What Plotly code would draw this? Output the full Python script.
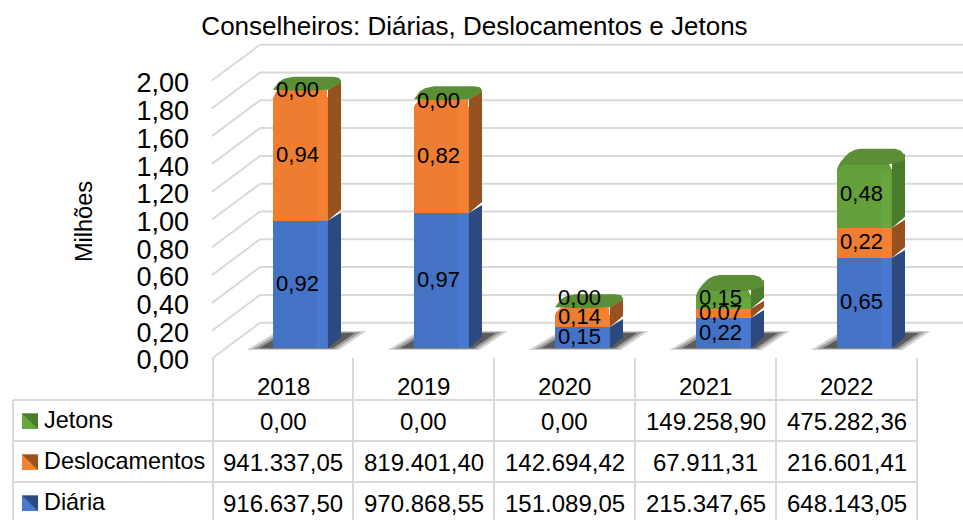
import plotly.graph_objects as go

YEARS = ["2018", "2019", "2020", "2021", "2022"]
DIARIA = [916637.50, 970868.55, 151089.05, 215347.65, 648143.05]
DESLOC = [941337.05, 819401.40, 142694.42, 67911.31, 216601.41]
JETONS = [0.00, 0.00, 0.00, 149258.90, 475282.36]
SERIES = ["Diária", "Deslocamentos", "Jetons"]
TICKS = [0.0, 0.2, 0.4, 0.6, 0.8, 1.0, 1.2, 1.4, 1.6, 1.8, 2.0]
TITLE = "Conselheiros: Diárias, Deslocamentos e Jetons"
YTITLE = "Milhões"

FRONT = ["#4472C4", "#ED7D31", "#639F3B"]
BRIGHT = ["#4878CF", "#F58232", "#68A63E"]
SIDE = ["#2C4A80", "#98521F", "#4B7C2C"]
TOP = "#5A8F35"
GRID = "#D9D9D9"
W, H = 963, 520
UX, UY = 141.0, 139.0
X0, Y0 = 300.5, 348.0
BAR_W = 55.0
REG = "Liberation Sans"
ZERO_NUDGE = [-2, -3, 8, 0, 0]


def dx(p):
    return p / UX


def dy(p):
    return p / UY


def br(v):
    s = f"{v:,.2f}"
    return s.replace(",", "#").replace(".", ",").replace("#", ".")


xr = [-X0 / UX, (W - X0) / UX]
yr = [(Y0 - H) / UY, Y0 / UY]
idx = list(range(len(YEARS)))
stacks = [[v / 1e6 for v in s] for s in (DIARIA, DESLOC, JETONS)]

fig = go.Figure()
shapes = []

# walls
xl = (212 - X0) / UX
xb = (260 - X0) / UX
xe = (W - X0) / UX
for t in TICKS:
    yf = t + dy(Y0 - 358.5)
    yb = t + dy(Y0 - 322.7)
    shapes.append(dict(type="line", xref="x", yref="y", x0=xl, y0=yf, x1=xb, y1=yb, layer="below",
                       line=dict(color=GRID, width=2)))
    shapes.append(dict(type="line", xref="x", yref="y", x0=xb, y0=yb, x1=xe, y1=yb, layer="below",
                       line=dict(color=GRID, width=2)))

# shadows
SHADOW_LAYERS = [(1.0, "rgba(120,120,120,0.35)"), (0.9, "rgba(90,90,90,0.45)"), (0.8, "rgba(50,50,50,0.6)")]
for i in idx:
    for g, col in SHADOW_LAYERS:
        pts = [(-62, 2), (-30, -17), (58, -17), (30, 2)]
        cx, cy = 8, -7
        path = "M" + " L".join(f"{i + dx(cx + a * g):.4f},{dy(-(cy + (b + 7) * g)):.4f}" for a, b in pts) + " Z"
        shapes.append(dict(type="path", xref="x", yref="y", path=path, layer="below", line=dict(width=0), fillcolor=col))

# front faces
for k, s in enumerate(stacks):
    marker = dict(color=FRONT[k], line=dict(width=0))
    if k == 2:
        marker["cornerradius"] = 10
    fig.add_trace(go.Bar(x=idx, y=s, width=BAR_W / UX, name=SERIES[k], marker=marker,
                         showlegend=False, hoverinfo="skip"))

half = BAR_W / 2 / UX
DX, DY = dx(13), dy(11)


def poly(xs, ys, color):
    fig.add_trace(go.Scatter(x=xs, y=ys, mode="lines", fill="toself", fillcolor=color,
                             line=dict(width=0), showlegend=False, hoverinfo="skip"))


TOP_FLAT = [(0, 0), (2, -3), (6, -8), (11, -11), (15, -12), (20, -13), (60, -13), (66, -12), (68, -9), (68, -7), (55, 0), (28, 1)]
TOP_ROUND = [(0, 9), (1, 5), (3, 1), (7, -4), (12, -9), (18, -12), (24, -13), (58, -13), (64, -11), (68, -6), (68, -2), (60, 1), (50, 3), (6, 3)]

# sides, highlight, tops
for i in idx:
    base = 0.0
    rounded = JETONS[i] > 0
    for k, s in enumerate(stacks):
        h = s[i]
        top = base + h
        if h > 0:
            R = i + half
            poly([R, R + DX, R + DX, R], [base, base + DY, top + dy(8), top], SIDE[k])
            cut = dy(10) if (k == 2 and rounded) else 0
            poly([R - dx(11), R - dx(1), R - dx(1), R - dx(11)], [base, base, top - cut, top - cut], BRIGHT[k])
        base = top
    L = i - half
    offs = TOP_ROUND if rounded else TOP_FLAT
    poly([L + dx(a) for a, b in offs], [base + dy(-b) for a, b in offs], TOP)

# bar labels
lx, ly, lt = [], [], []
for i in idx:
    base = 0.0
    for s in stacks:
        lx.append(i - dx(3))
        ly.append(base + s[i] / 2 + (dy(-1) if s[i] > 0 else dy(ZERO_NUDGE[i])))
        lt.append(f"{s[i]:.2f}".replace(".", ","))
        base += s[i]
fig.add_trace(go.Scatter(x=lx, y=ly, text=lt, mode="text", textposition="middle center",
                         textfont=dict(family=REG, size=22, color="#000000"), showlegend=False, hoverinfo="skip"))

fig.add_trace(go.Scatter(x=[0], y=[0], yaxis="y2", mode="markers", marker=dict(opacity=0), showlegend=False, hoverinfo="skip"))

# table
VX = [213, 353, 494, 635, 776, 917]
HY = [400, 441, 482]
for x in VX:
    shapes.append(dict(type="line", xref="paper", yref="paper", x0=x / W, x1=x / W, y0=1 - 358 / H, y1=0,
                       line=dict(color=GRID, width=2)))
shapes.append(dict(type="line", xref="paper", yref="paper", x0=13 / W, x1=13 / W, y0=1 - 400 / H, y1=0,
                   line=dict(color=GRID, width=2)))
for y in HY:
    shapes.append(dict(type="line", xref="paper", yref="paper", x0=13 / W, x1=917 / W, y0=1 - y / H, y1=1 - y / H,
                       line=dict(color=GRID, width=2)))

ann = []
FS = 24


def text(x, y, t, anchor="center", size=FS, angle=0):
    ann.append(dict(x=x / W, y=1 - y / H, xref="paper", yref="paper", text=t, showarrow=False, xanchor=anchor,
                    yanchor="middle", textangle=angle, borderpad=0, font=dict(family=REG, size=size, color="#000000")))


CX = [283, 423.5, 564.5, 705.5, 846.5]
RY = [421, 462, 503]
for c, y in zip(CX, YEARS):
    text(c, 386, y)
ROWS = [("Jetons", JETONS, 2), ("Deslocamentos", DESLOC, 1), ("Diária", DIARIA, 0)]
for ry, (name, vals, k) in zip(RY, ROWS):
    text(43, ry - 1, name, "left", size=23.4)
    for c, v in zip(CX, vals):
        text(c, ry, br(v))
    a, b, t0, t1 = 22, 38, ry - 7.5, ry + 8
    shapes.append(dict(type="rect", xref="paper", yref="paper", x0=a / W, x1=b / W, y0=1 - t0 / H, y1=1 - t1 / H,
                       fillcolor=BRIGHT[k], line=dict(width=0)))
    m = (a + b) / 2
    mid = (t0 + t1) / 2
    for pts, col in (([(b, t0), (b, t1), (m, mid)], SIDE[k]), ([(a, t0), (b, t0), (m, mid)], SIDE[k])):
        path = "M" + " L".join(f"{p / W:.5f},{1 - q / H:.5f}" for p, q in pts) + " Z"
        shapes.append(dict(type="path", xref="paper", yref="paper", path=path, fillcolor=col, line=dict(width=0)))

text(84, 222, YTITLE, size=23.5, angle=-90)

fig.update_layout(
    width=W, height=H, autosize=False, margin=dict(l=0, r=0, t=0, b=0),
    paper_bgcolor="white", plot_bgcolor="rgba(0,0,0,0)",
    barmode="stack", showlegend=False,
    title=dict(text=TITLE, x=474.5 / W, y=1 - 26 / H, xanchor="center", yanchor="middle",
               font=dict(family=REG, size=26, color="#000000")),
    xaxis=dict(range=xr, visible=False, fixedrange=True),
    yaxis=dict(range=yr, visible=False, fixedrange=True),
    yaxis2=dict(overlaying="y", anchor="free", position=189 / W, side="left",
                range=[(360 - H) / 138.5, 360 / 138.5], tickvals=TICKS,
                ticktext=[f"{t:.2f}".replace(".", ",") for t in TICKS], showgrid=False, zeroline=False,
                showline=False, ticks="",
                tickfont=dict(family=REG, size=27, color="#000000")),
    shapes=shapes, annotations=ann,
)
fig.write_html("out.html", config=dict(displayModeBar=False),
               post_script="document.body.style.margin='0';document.body.style.overflow='hidden';")
